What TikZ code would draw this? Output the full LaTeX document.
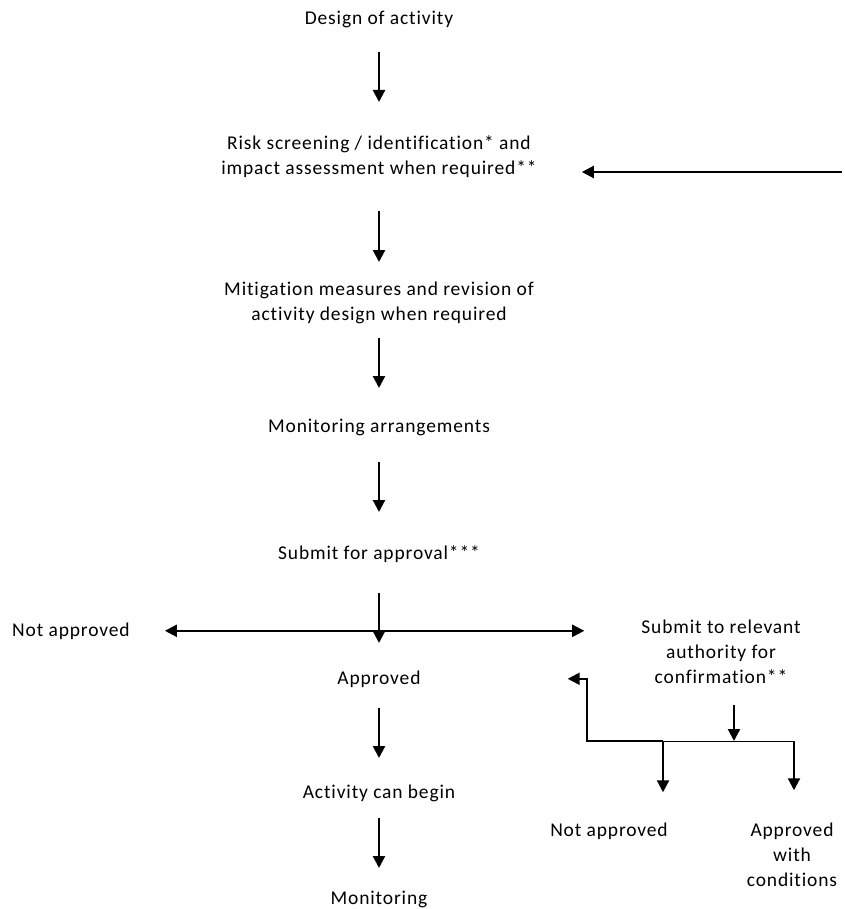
\documentclass[tikz,border=0pt]{standalone}
\usepackage{fontspec}
\setmainfont{Carlito}[LetterSpace=4.4,Ligatures=NoCommon]
\usetikzlibrary{arrows.meta}
\tikzset{
  lbl/.style={anchor=base,align=center,inner sep=0pt,font=\fontsize{19.5}{25}\selectfont},
  arr/.style={line width=2.2pt,-{Triangle[length=12pt,width=12pt]}},
  dblarr/.style={line width=2.2pt,{Triangle[length=12pt,width=12pt]}-{Triangle[length=12pt,width=12pt]}},
}
\begin{document}
\begin{tikzpicture}[x=1pt,y=-1pt]
  \useasboundingbox (0,0) rectangle (844,909);
  % main column
  \node[lbl] (design) at (379,25) {Design of activity};
  \node[lbl] (risk) at (379,175) {Risk screening / identification* and\\impact assessment when required**};
  \node[lbl] (mitig) at (379,320) {Mitigation measures and revision of\\activity design when required};
  \node[lbl] (monarr) at (379,432) {Monitoring arrangements};
  \node[lbl] (submit) at (379,559) {Submit for approval***};
  \node[lbl] (approved) at (379,684) {Approved};
  \node[lbl] (activity) at (379,798) {Activity can begin};
  \node[lbl] (monit) at (379,904) {Monitoring};
  % side branches
  \node[lbl,anchor=base west] (notapprL) at (12,636) {Not approved};
  \node[lbl] (subrel) at (721,683) {Submit to relevant\\authority for\\confirmation**};
  \node[lbl] (notapprR) at (609,836) {Not approved};
  \node[lbl] (apprcond) at (792,886) {Approved\\with\\conditions};
  \coordinate (loop) at (842,172);
  \coordinate (barL) at (663,741);
  \coordinate (barR) at (794,741);

  \draw[arr,shorten <=27pt,shorten >=73pt] (design.base) -- (risk.base);
  \draw[arr,shorten <=36pt,shorten >=58pt] (risk.base) -- (mitig.base);
  \draw[arr,shorten <=18pt,shorten >=44pt] (mitig.base) -- (monarr.base);
  \draw[arr,shorten <=30pt,shorten >=47pt] (monarr.base) -- (submit.base);
  \draw[arr,shorten <=34pt,shorten >=41pt] (submit.base) -- (approved.base);
  \draw[arr,shorten <=24pt,shorten >=40pt] (approved.base) -- (activity.base);
  \draw[arr,shorten <=20pt,shorten >=36pt] (activity.base) -- (monit.base);

  \draw[arr,shorten >=45pt] (loop) -- (loop -| risk.east);
  \draw[dblarr,shorten <=35pt,shorten >=57pt] (notapprL.east) -- (notapprL.east -| subrel.west);

  \draw[line width=1pt] (barL) -- (barR);
  \draw[arr,shorten >=147pt] (barL) -- ++(-76,0) |- (approved.east);
  \draw[arr,shorten <=22pt] ([xshift=13pt]subrel.south) -- ([xshift=13pt]subrel.south |- barR);
  \draw[arr,shorten >=30pt] (barL) -- (barL |- notapprR.north);
  \draw[arr,shorten >=32pt] (barR) -- (barR |- apprcond.north);
\end{tikzpicture}
\end{document}
